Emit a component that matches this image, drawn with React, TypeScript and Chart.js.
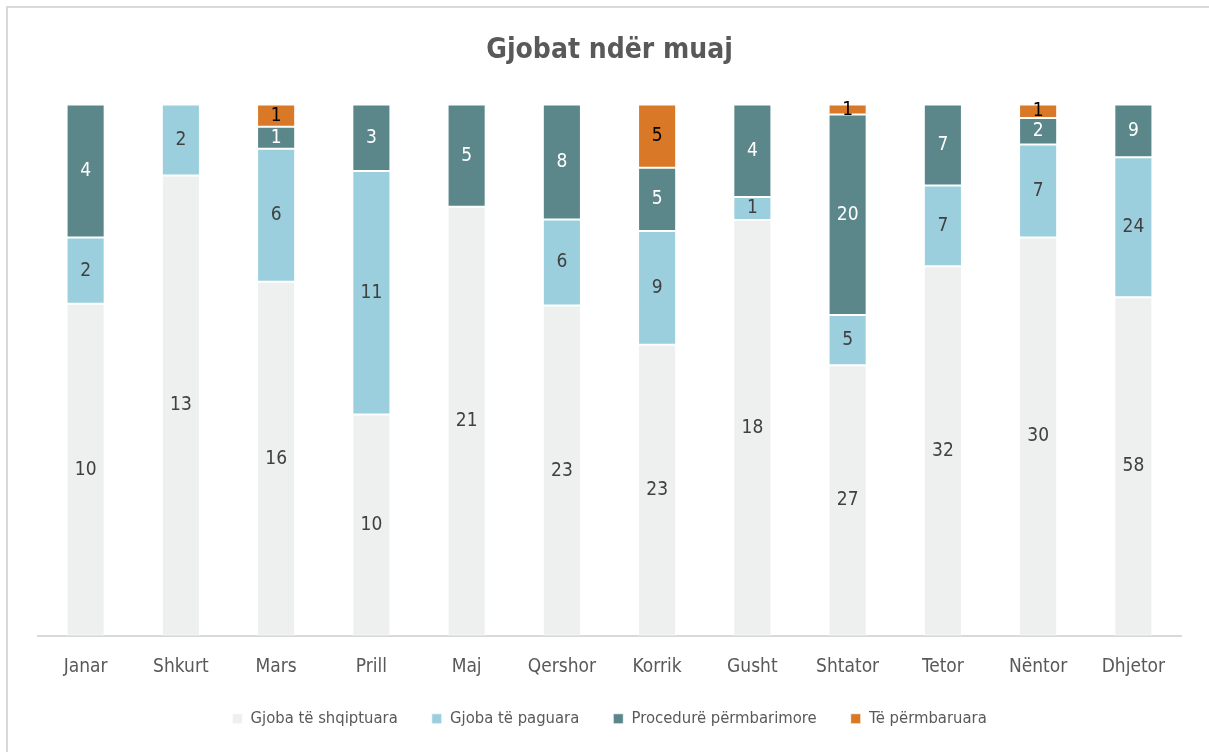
import React, { useEffect, useRef } from "react";
import { Chart, registerables } from "chart.js";

Chart.register(...registerables);

const months = ["Janar", "Shkurt", "Mars", "Prill", "Maj", "Qershor", "Korrik", "Gusht", "Shtator", "Tetor", "Nëntor", "Dhjetor"];
const seriesNames = ["Gjoba të shqiptuara", "Gjoba të paguara", "Procedurë përmbarimore", "Të përmbaruara"];
const shqiptuara = [10, 13, 16, 10, 21, 23, 23, 18, 27, 32, 30, 58];
const paguara = [2, 2, 6, 11, 0, 6, 9, 1, 5, 7, 7, 24];
const procedure = [4, 0, 1, 3, 5, 8, 5, 4, 20, 7, 2, 9];
const permbaruara = [0, 0, 1, 0, 0, 0, 5, 0, 1, 0, 1, 0];

const colors = ["#EEF0EF", "#9CCFDD", "#5B878B", "#D97826"];
const labelColors = ["#404040", "#404040", "#FFFFFF", "#000000"];
const FONT = "'DejaVu Sans Condensed', 'DejaVu Sans', sans-serif";

const rawSeries = [shqiptuara, paguara, procedure, permbaruara];
const totals = months.map((_, i) => rawSeries.reduce((s, arr) => s + arr[i], 0));

const valueLabels = {
  id: "valueLabels",
  afterDatasetsDraw(chart: any) {
    const ctx = chart.ctx;
    ctx.save();
    ctx.font = `condensed 19px ${FONT}`;
    ctx.textAlign = "center";
    ctx.textBaseline = "middle";
    chart.data.datasets.forEach((ds: any, di: number) => {
      const meta = chart.getDatasetMeta(di);
      meta.data.forEach((bar: any, i: number) => {
        const raw = rawSeries[di][i];
        if (!raw) return;
        const { x, y, base } = bar.getProps(["x", "y", "base"], true);
        ctx.fillStyle = labelColors[di];
        ctx.fillText(String(raw), x, (y + base) / 2);
      });
    });
    ctx.restore();
  },
};

export default function App() {
  const ref = useRef<HTMLCanvasElement>(null);
  useEffect(() => {
    if (!ref.current) return;
    Chart.defaults.font.family = FONT;
    const chart = new Chart(ref.current, {
      type: "bar",
      data: {
        labels: months,
        datasets: rawSeries.map((arr, di) => ({
          label: seriesNames[di],
          data: arr.map((v, i) => (v / totals[i]) * 100),
          backgroundColor: colors[di],
          borderColor: "rgba(255,255,255,0.7)",
          borderWidth: 1,
          borderSkipped: false,
          categoryPercentage: 1,
          barPercentage: 0.4,
        })),
      },
      options: {
        responsive: false,
        animation: false,
        layout: { padding: { left: 38, right: 28, top: 0, bottom: 15 } },
        plugins: {
          title: {
            display: true,
            text: "Gjobat ndër muaj",
            color: "#595959",
            font: { size: 28, weight: "bold condensed" as any, family: FONT },
            padding: { top: 34, bottom: 37 },
          },
          legend: {
            position: "bottom",
            labels: {
              color: "#595959",
              font: { size: 16.5, weight: "condensed" as any, family: FONT },
              boxWidth: 10,
              boxHeight: 10,
              padding: 34,
            },
          },
          tooltip: { enabled: false },
        },
        scales: {
          x: {
            stacked: true,
            grid: { display: false },
            border: { display: true, color: "#D9D9D9", width: 2 },
            ticks: { color: "#595959", font: { size: 19, weight: "condensed" as any, family: FONT }, padding: 12 },
            afterFit: (scale: any) => {
              scale.height -= 14;
            },
          },
          y: {
            stacked: true,
            display: false,
            min: 0,
            max: 100,
          },
        },
      },
      plugins: [valueLabels],
    });
    return () => chart.destroy();
  }, []);
  return (
    <div style={{ position: "fixed", left: 0, top: 0, width: 1209, height: 752, overflow: "hidden", background: "#fff" }}>
      <div style={{ position: "absolute", left: 6, top: 6, width: 1260, height: 800, borderTop: "2px solid #D9D9D9", borderLeft: "2px solid #D9D9D9" }} />
      <canvas ref={ref} width={1209} height={752} style={{ position: "absolute", left: 0, top: 0 }} />
    </div>
  );
}
